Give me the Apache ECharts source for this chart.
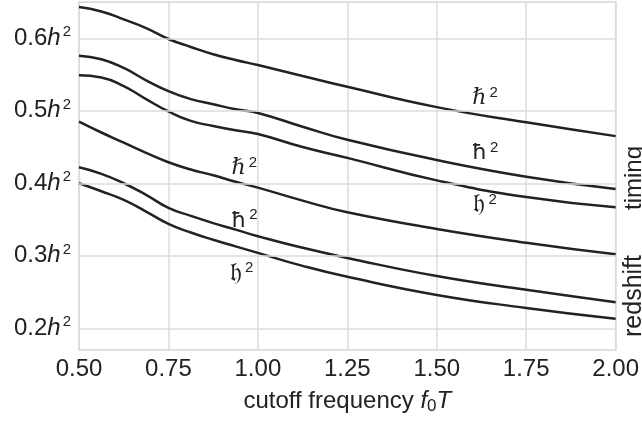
<!DOCTYPE html>
<html><head><meta charset="utf-8">
<script src="https://cdn.jsdelivr.net/npm/echarts@6/dist/echarts.min.js"></script>
<style>html,body{margin:0;padding:0;background:#fff}#c{width:642px;height:424px}</style>
</head><body><div id="c"></div>
<script>
const xs = [0.5, 0.5625, 0.625, 0.6875, 0.75, 0.8125, 0.875, 0.9375, 1.0, 1.125, 1.25, 1.5, 1.75, 2.0];
const timingHbar2 =     [0.643, 0.637, 0.626, 0.614, 0.599, 0.588, 0.578, 0.570, 0.563, 0.548, 0.533, 0.505, 0.484, 0.465];
const timingHstroke =   [0.576, 0.571, 0.559, 0.542, 0.527, 0.516, 0.509, 0.502, 0.497, 0.478, 0.460, 0.432, 0.409, 0.392];
const timingFrak =      [0.549, 0.546, 0.534, 0.516, 0.499, 0.486, 0.479, 0.473, 0.468, 0.450, 0.435, 0.404, 0.381, 0.367];
const redshiftHbar2 =   [0.485, 0.470, 0.456, 0.442, 0.429, 0.419, 0.411, 0.402, 0.394, 0.376, 0.360, 0.337, 0.318, 0.302];
const redshiftHstroke = [0.422, 0.413, 0.400, 0.384, 0.366, 0.355, 0.345, 0.336, 0.327, 0.311, 0.297, 0.272, 0.253, 0.236];
const redshiftFrak =    [0.400, 0.389, 0.377, 0.361, 0.344, 0.332, 0.322, 0.313, 0.304, 0.286, 0.271, 0.246, 0.228, 0.213];
const yTicks = [0.2, 0.3, 0.4, 0.5, 0.6];
// curve labels: [symbol, font, size, x, y]
const curveLabels = [
  ['\u210F', 'DejaVu Serif', 22, 1.635, 0.517],
  ['\u0127', 'DejaVu Sans', 22, 1.635, 0.441],
  ['\uD835\uDD25', 'DejaVu Sans', 26, 1.635, 0.369],
  ['\u210F', 'DejaVu Serif', 22, 0.962, 0.420],
  ['\u0127', 'DejaVu Sans', 22, 0.962, 0.348],
  ['\uD835\uDD25', 'DejaVu Sans', 26, 0.955, 0.275]
];
const seriesData = [timingHbar2, timingHstroke, timingFrak, redshiftHbar2, redshiftHstroke, redshiftFrak];

const chart = echarts.init(document.getElementById('c'));
const font = 'Liberation Sans, Arial, sans-serif';
const series = seriesData.map((vals, i) => ({
  type: 'line',
  smooth: 0.5,
  symbol: 'none',
  data: xs.map((x, j) => [x, vals[j]]),
  lineStyle: {color: '#222222', width: 2.5},
  silent: true,
  z: 3,
  markPoint: {
    symbol: 'circle', symbolSize: 0, silent: true,
    data: [{coord: [curveLabels[i][3], curveLabels[i][4]],
      label: {show: true, position: 'inside',
        formatter: '{a|' + curveLabels[i][0] + '}{s|2}',
        rich: {
          a: {fontFamily: curveLabels[i][1], fontSize: curveLabels[i][2], color: '#222'},
          s: {fontFamily: font, fontSize: 15, color: '#222', padding: [0, 0, 12, 3]}
        }}}]
  }
}));
chart.setOption({
  animation: false,
  grid: {left: 79, right: 26, top: 2, bottom: 74, show: true, borderColor: '#d5d5d5', borderWidth: 1.5},
  xAxis: {
    type: 'value', min: 0.5, max: 2.0, interval: 0.25,
    axisLine: {show: false}, axisTick: {show: false},
    splitLine: {show: true, lineStyle: {color: '#dcdcdc', width: 1.5}},
    axisLabel: {color: '#222', fontSize: 24, fontFamily: font, margin: 7,
      formatter: v => v.toFixed(2)},
    name: 'cutoff frequency {i|f}{sub|0}{i|T}',
    nameLocation: 'middle', nameGap: 38,
    nameTextStyle: {color: '#222', fontSize: 24, fontFamily: font,
      rich: {i: {fontStyle: 'italic', fontSize: 24, fontFamily: font, color: '#222'},
             sub: {fontSize: 17, fontFamily: font, color: '#222', padding: [10, 0, 0, 0]}}}
  },
  yAxis: {
    type: 'value', min: 0.17, max: 0.65,
    axisLine: {show: false},
    axisTick: {show: false, customValues: yTicks},
    splitLine: {show: false},
    axisLabel: {customValues: yTicks, color: '#222', fontSize: 24, fontFamily: font, margin: 8,
      formatter: v => '{n|' + v.toFixed(1) + '}{i|h}{s|2}',
      rich: {n: {fontSize: 24, fontFamily: font, color: '#222'},
             i: {fontSize: 24, fontFamily: font, fontStyle: 'italic', color: '#222'},
             s: {fontSize: 15, fontFamily: font, color: '#222', padding: [0, 0, 12, 2]}}}
  },
  series: series.concat([{
    type: 'line', data: [], silent: true, z: 1,
    markLine: {silent: true, symbol: 'none', label: {show: false},
      lineStyle: {color: '#dcdcdc', width: 1.5, type: 'solid'},
      data: yTicks.map(v => ({yAxis: v}))}
  }]),
  graphic: [
    {type: 'text', left: 622, top: 146, rotation: Math.PI / 2,
      style: {text: 'timing', fontSize: 24, fontFamily: font, fill: '#222'}},
    {type: 'text', left: 622, top: 255, rotation: Math.PI / 2,
      style: {text: 'redshift', fontSize: 25, fontFamily: font, fill: '#222'}}
  ]
});
</script></body></html>
